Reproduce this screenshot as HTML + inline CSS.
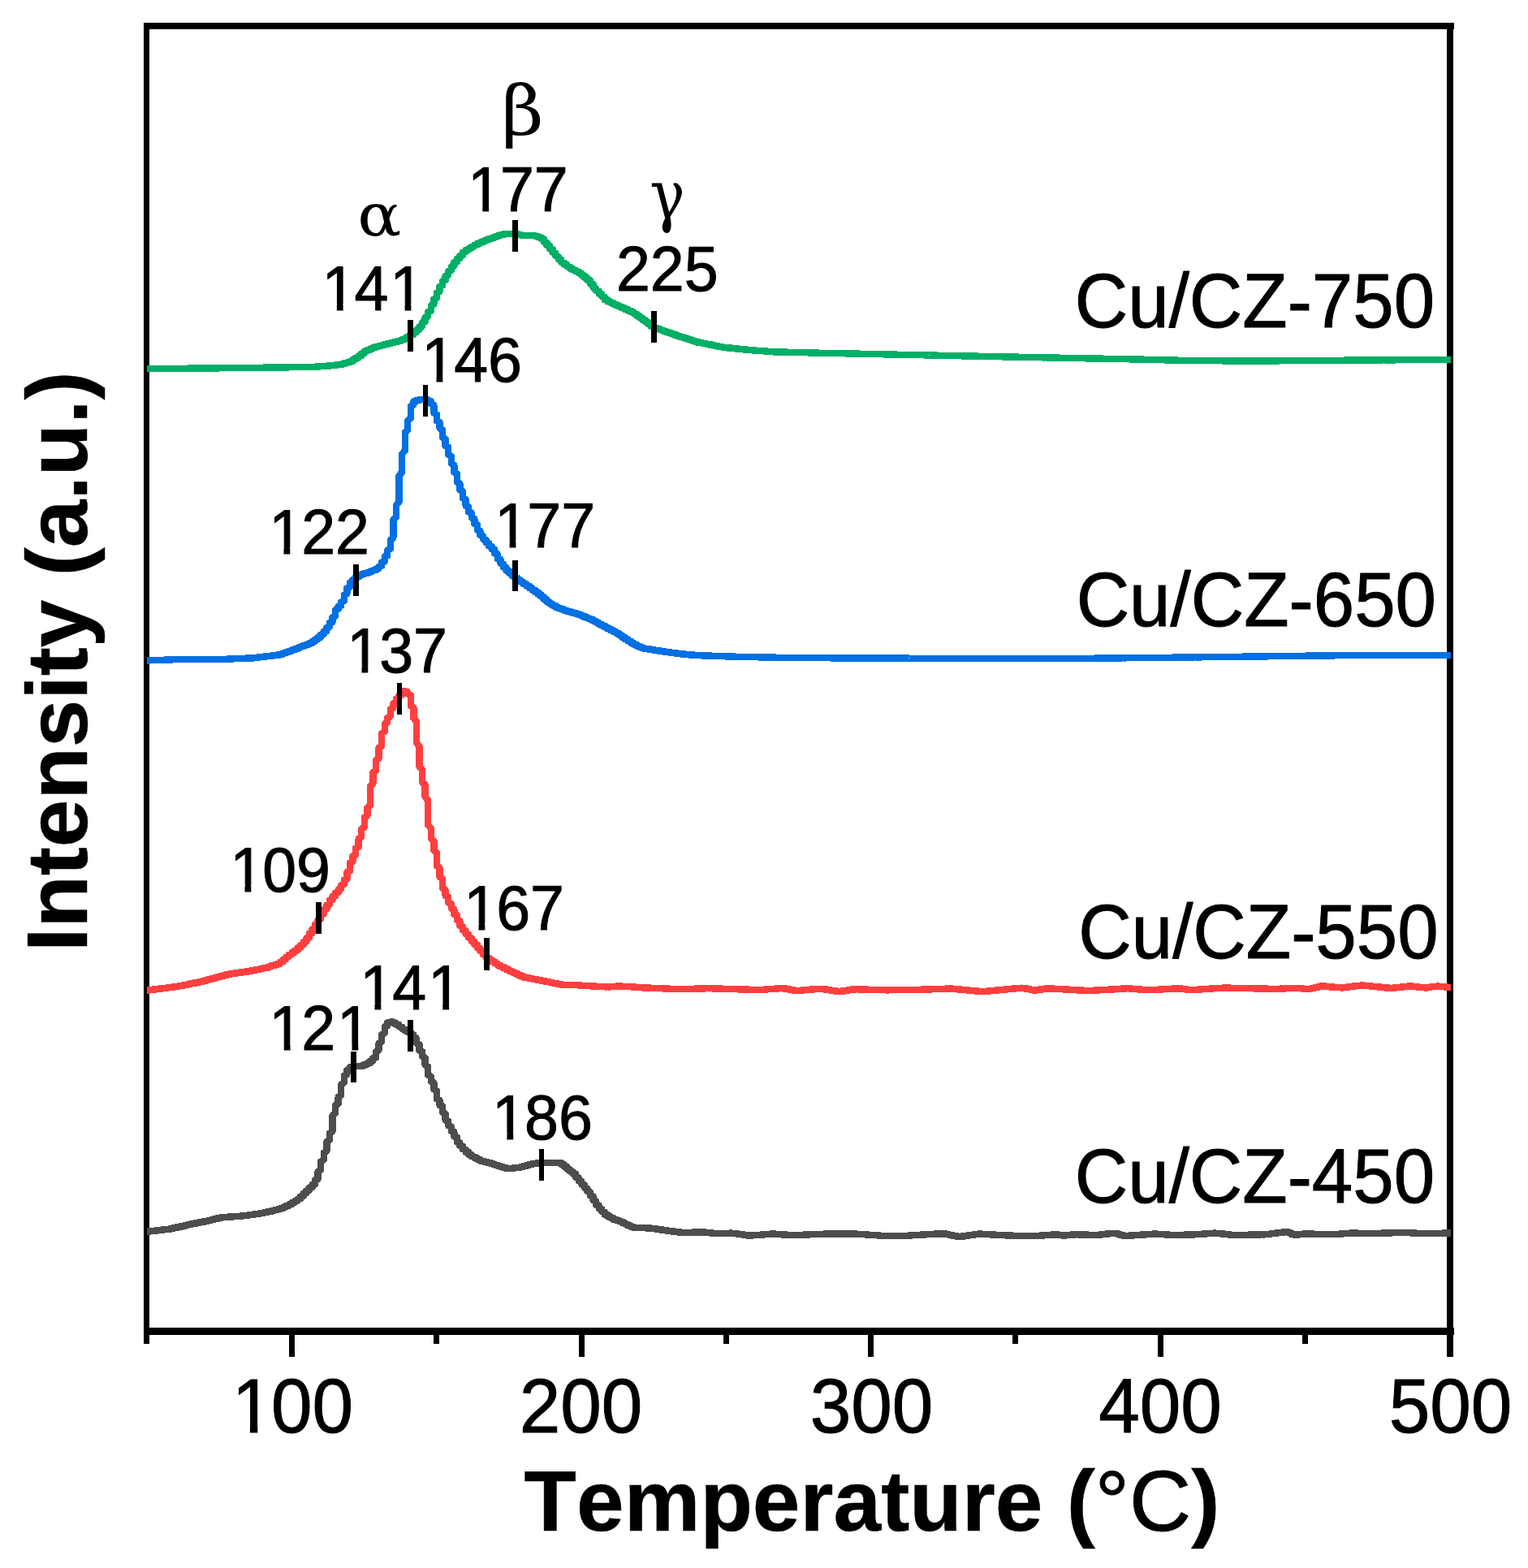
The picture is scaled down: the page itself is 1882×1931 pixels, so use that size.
<!DOCTYPE html>
<html lang="en"><head><meta charset="utf-8"><title>H2-TPR profiles of Cu/CZ catalysts</title>
<style>html,body{margin:0;padding:0;background:#fff}body{width:1882px;height:1931px;overflow:hidden}svg{display:block}text{fill:#000;stroke:#000;stroke-linejoin:round;font-kerning:none;font-variant-ligatures:none;white-space:pre}</style>
</head><body>
<svg width="1882" height="1931" viewBox="0 0 1882 1931" role="img" aria-label="H2-TPR profiles">
<rect width="1882" height="1931" fill="#fff"/>
<defs>
<clipPath id="c1" clipPathUnits="userSpaceOnUse"><rect x="-30" y="-130" width="530" height="120.4"/><rect x="-30.00" y="-10" width="37.50" height="70"/><rect x="26.90" y="-10" width="10.30" height="70"/><rect x="55.80" y="-10" width="444.20" height="70"/></clipPath>
<clipPath id="c13" clipPathUnits="userSpaceOnUse"><rect x="-30" y="-130" width="530" height="120.4"/><rect x="-30.00" y="-10" width="37.50" height="70"/><rect x="26.90" y="-10" width="10.30" height="70"/><rect x="55.80" y="-10" width="62.95" height="70"/><rect x="138.15" y="-10" width="10.30" height="70"/><rect x="167.05" y="-10" width="332.95" height="70"/></clipPath>
</defs>
<g fill="#000" shape-rendering="crispEdges">
<rect x="177" y="28" width="1614" height="8"/>
<rect x="177" y="1635" width="1614" height="9"/>
<rect x="177" y="28" width="7" height="1627"/>
<rect x="1782" y="28" width="8" height="1643"/>
<rect x="534.1" y="1640" width="7" height="15"/>
<rect x="891.1" y="1640" width="7" height="15"/>
<rect x="1247.1" y="1640" width="7" height="15"/>
<rect x="1604.1" y="1640" width="7" height="15"/>
<rect x="356.1" y="1640" width="7" height="31"/>
<rect x="713.1" y="1640" width="7" height="31"/>
<rect x="1068.9" y="1640" width="7" height="31"/>
<rect x="1426.1" y="1640" width="7" height="31"/>
</g>
<g fill="none" stroke-width="8.4" stroke-linejoin="round" stroke-linecap="butt" shape-rendering="crispEdges">
<polyline stroke="#4D4D4D" points="181.0,1516.5 184.7,1516.5 184.7,1516.1 188.2,1516.1 188.2,1515.7 191.8,1515.7 191.8,1515.3 195.4,1515.3 195.4,1514.9 198.9,1514.9 198.9,1514.5 202.5,1514.5 202.5,1514.2 206.1,1514.1 206.1,1513.8 209.6,1513.7 209.6,1513.2 213.2,1513.1 213.2,1512.4 216.8,1512.2 216.8,1511.5 220.3,1511.4 220.3,1510.7 223.9,1510.6 223.9,1509.9 227.5,1509.7 227.5,1509.0 231.1,1508.9 231.1,1508.2 234.6,1508.1 234.6,1507.4 238.2,1507.3 238.2,1506.7 241.8,1506.6 241.8,1506.0 245.3,1505.9 245.3,1505.3 248.9,1505.2 248.9,1504.6 252.5,1504.5 252.5,1503.9 256.0,1503.7 256.0,1503.1 259.6,1503.0 259.6,1502.3 263.2,1502.1 263.2,1501.4 266.7,1501.2 266.7,1500.5 270.3,1500.4 270.3,1499.6 273.9,1499.5 273.9,1499.1 277.4,1499.0 277.4,1498.8 281.0,1498.8 281.0,1498.6 284.6,1498.6 284.6,1498.4 288.1,1498.3 288.1,1498.1 291.7,1498.1 291.7,1497.9 295.3,1497.8 295.3,1497.6 298.8,1497.6 298.8,1497.2 302.4,1497.1 302.4,1496.7 306.0,1496.7 306.0,1496.3 309.5,1496.2 309.5,1495.8 313.1,1495.7 313.1,1495.3 316.7,1495.2 316.7,1494.8 320.3,1494.7 320.3,1494.3 323.8,1494.2 323.8,1493.5 327.4,1493.3 327.4,1492.7 331.0,1492.5 331.0,1491.8 334.5,1491.7 334.5,1491.0 338.1,1490.9 338.1,1490.2 341.7,1490.0 341.7,1489.3 345.2,1489.2 345.2,1488.2 348.8,1488.0 348.8,1486.7 352.4,1486.4 352.4,1485.1 355.9,1484.9 355.9,1483.4 359.5,1483.1 359.5,1481.2 363.1,1480.8 363.1,1479.0 366.6,1478.6 366.6,1476.7 370.2,1476.3 370.2,1473.6 373.8,1473.0 373.8,1470.0 377.3,1469.4 377.3,1466.4 380.9,1465.8 380.9,1462.8 384.5,1462.2 384.5,1459.2 388.0,1458.4 388.0,1453.3 391.6,1451.9 391.6,1442.9 395.2,1440.9 395.2,1430.4 398.7,1428.5 398.7,1420.0 402.3,1417.9 402.3,1406.2 405.9,1404.2 405.9,1395.8 409.5,1393.0 409.5,1373.7 413.0,1370.8 413.0,1361.2 416.6,1359.5 416.6,1351.1 420.2,1348.9 420.2,1335.6 423.7,1333.4 423.7,1324.7 427.3,1323.3 427.3,1318.2 430.9,1317.4 430.9,1314.4 434.4,1314.0 434.4,1312.8 438.0,1312.6 438.0,1312.9 441.6,1312.9 441.6,1313.2 445.1,1313.1 445.1,1312.5 448.7,1312.3 448.7,1311.0 452.3,1310.8 452.3,1309.5 455.8,1309.2 455.8,1307.0 459.4,1306.5 459.4,1303.2 463.0,1302.1 463.0,1295.2 466.5,1293.6 466.5,1284.8 470.1,1283.0 470.1,1274.1 473.7,1272.4 473.7,1264.3 477.2,1263.1 477.2,1259.5 480.8,1259.1 480.8,1258.5 484.4,1258.6 484.4,1260.1 487.9,1260.4 487.9,1261.8 491.5,1262.2 491.5,1264.3 495.1,1264.7 495.1,1267.1 498.7,1267.6 498.7,1269.5 502.2,1269.8 502.2,1271.1 505.8,1271.4 505.8,1273.8 509.4,1274.4 509.4,1277.9 512.9,1278.8 512.9,1284.7 516.5,1286.1 516.5,1293.7 520.1,1295.0 520.1,1300.9 523.6,1302.4 523.6,1311.6 527.2,1313.6 527.2,1324.0 530.8,1325.6 530.8,1331.8 534.3,1333.3 534.3,1341.6 537.9,1343.4 537.9,1353.5 541.5,1355.1 541.5,1361.0 545.0,1362.4 545.0,1369.9 548.6,1371.5 548.6,1379.6 552.2,1380.9 552.2,1386.3 555.7,1387.4 555.7,1392.8 559.3,1393.9 559.3,1399.5 562.9,1400.6 562.9,1406.2 566.4,1407.2 566.4,1411.1 570.0,1411.8 570.0,1415.2 573.6,1415.8 573.6,1418.5 577.1,1419.0 577.1,1421.7 580.7,1422.2 580.7,1424.2 584.3,1424.5 584.3,1426.0 587.9,1426.3 587.9,1427.8 591.4,1428.1 591.4,1429.6 595.0,1429.8 595.0,1430.5 598.6,1430.7 598.6,1431.4 602.1,1431.6 602.1,1432.3 605.7,1432.5 605.7,1433.4 609.3,1433.6 609.3,1434.6 612.8,1434.8 612.8,1435.8 616.4,1436.0 616.4,1437.0 620.0,1437.2 620.0,1438.1 623.5,1438.3 623.5,1439.2 627.1,1439.3 627.1,1438.9 630.7,1438.9 630.7,1438.6 634.2,1438.5 634.2,1438.2 637.8,1438.1 637.8,1437.8 641.4,1437.7 641.4,1436.9 644.9,1436.7 644.9,1435.9 648.5,1435.7 648.5,1434.9 652.1,1434.7 652.1,1433.9 655.6,1433.7 655.6,1433.0 659.2,1432.9 659.2,1432.6 662.8,1432.6 662.8,1432.4 666.3,1432.3 666.3,1432.1 669.9,1432.0 669.9,1431.8 673.5,1431.8 677.1,1431.9 680.6,1431.9 684.2,1432.0 687.8,1432.0 691.3,1432.2 691.3,1433.9 694.9,1434.3 694.9,1436.6 698.5,1437.1 698.5,1439.5 702.0,1440.0 702.0,1442.4 705.6,1442.9 705.6,1445.5 709.2,1446.1 709.2,1449.7 712.7,1450.4 712.7,1454.0 716.3,1454.8 716.3,1458.4 719.9,1459.2 719.9,1462.8 723.4,1463.6 723.4,1467.3 727.0,1468.1 727.0,1472.4 730.6,1473.3 730.6,1478.4 734.1,1479.3 734.1,1483.8 737.7,1484.6 737.7,1488.5 741.3,1489.2 741.3,1492.2 744.8,1492.8 744.8,1495.7 748.4,1496.1 748.4,1497.9 752.0,1498.2 752.0,1500.0 755.5,1500.3 755.5,1501.8 759.1,1502.0 759.1,1503.0 762.7,1503.2 762.7,1504.2 766.3,1504.5 766.3,1505.8 769.8,1506.0 769.8,1507.5 773.4,1507.8 773.4,1509.3 777.0,1509.6 777.0,1511.0 780.5,1511.2 780.5,1511.8 784.1,1511.9 787.7,1512.0 791.2,1512.1 794.8,1512.3 798.4,1512.4 801.9,1512.5 801.9,1512.8 805.5,1512.9 805.5,1513.3 809.1,1513.4 809.1,1513.9 812.6,1514.0 812.6,1514.4 816.2,1514.5 816.2,1515.0 819.8,1515.1 819.8,1515.5 823.3,1515.6 823.3,1516.0 826.9,1516.1 826.9,1516.4 830.5,1516.5 830.5,1516.9 834.0,1516.9 834.0,1517.3 837.6,1517.4 837.6,1517.7 841.2,1517.8 844.7,1517.8 848.3,1517.8 851.9,1517.7 855.5,1517.6 859.0,1517.6 862.6,1517.5 866.2,1517.4 866.2,1517.6 869.7,1517.7 869.7,1518.0 873.3,1518.0 873.3,1518.3 876.9,1518.4 876.9,1518.7 880.4,1518.7 880.4,1519.0 884.0,1519.0 887.6,1519.0 891.1,1518.9 894.7,1518.8 898.3,1518.7 901.8,1518.6 901.8,1518.8 905.4,1518.8 905.4,1519.3 909.0,1519.4 909.0,1519.8 912.5,1519.9 912.5,1520.3 916.1,1520.4 916.1,1520.9 919.7,1521.0 919.7,1521.4 923.2,1521.5 926.8,1521.5 926.8,1521.3 930.4,1521.2 930.4,1521.0 933.9,1520.9 933.9,1520.7 937.5,1520.7 937.5,1520.4 941.1,1520.4 941.1,1520.1 944.7,1520.1 944.7,1519.9 948.2,1519.8 948.2,1519.6 951.8,1519.6 955.4,1519.7 955.4,1519.9 958.9,1519.9 958.9,1520.1 962.5,1520.2 962.5,1520.4 966.1,1520.4 966.1,1520.6 969.6,1520.7 969.6,1520.9 973.2,1520.9 973.2,1521.1 976.8,1521.1 980.3,1521.1 983.9,1520.9 987.5,1520.8 991.0,1520.6 994.6,1520.5 998.2,1520.3 1001.7,1520.2 1005.3,1520.0 1008.9,1519.9 1012.4,1519.8 1016.0,1519.6 1019.6,1519.5 1023.1,1519.5 1026.7,1519.5 1030.3,1519.5 1033.9,1519.5 1037.4,1519.5 1041.0,1519.5 1044.6,1519.5 1048.1,1519.5 1051.7,1519.5 1055.3,1519.5 1055.3,1519.7 1058.8,1519.7 1058.8,1520.0 1062.4,1520.0 1062.4,1520.2 1066.0,1520.2 1066.0,1520.4 1069.5,1520.5 1069.5,1520.7 1073.1,1520.7 1073.1,1520.9 1076.7,1521.0 1076.7,1521.2 1080.2,1521.2 1080.2,1521.4 1083.8,1521.5 1083.8,1521.7 1087.4,1521.7 1090.9,1521.7 1094.5,1521.7 1098.1,1521.7 1101.6,1521.7 1105.2,1521.7 1108.8,1521.7 1112.3,1521.7 1115.9,1521.7 1119.5,1521.7 1119.5,1521.5 1123.1,1521.5 1123.1,1521.3 1126.6,1521.2 1126.6,1521.1 1130.2,1521.0 1130.2,1520.8 1133.8,1520.8 1133.8,1520.6 1137.3,1520.6 1137.3,1520.4 1140.9,1520.4 1140.9,1520.2 1144.5,1520.2 1144.5,1520.0 1148.0,1519.9 1148.0,1519.8 1151.6,1519.7 1151.6,1519.5 1155.2,1519.5 1158.7,1519.5 1162.3,1519.5 1165.9,1519.6 1165.9,1520.2 1169.4,1520.3 1169.4,1520.9 1173.0,1521.0 1173.0,1521.7 1176.6,1521.8 1176.6,1522.4 1180.1,1522.5 1180.1,1523.0 1183.7,1523.0 1183.7,1522.6 1187.3,1522.5 1187.3,1522.0 1190.8,1522.0 1190.8,1521.5 1194.4,1521.5 1194.4,1521.0 1198.0,1521.0 1198.0,1520.5 1201.5,1520.5 1201.5,1520.0 1205.1,1519.9 1205.1,1519.5 1208.7,1519.5 1208.7,1519.7 1212.3,1519.7 1212.3,1519.9 1215.8,1519.9 1215.8,1520.1 1219.4,1520.1 1219.4,1520.3 1223.0,1520.3 1223.0,1520.5 1226.5,1520.6 1226.5,1520.7 1230.1,1520.8 1230.1,1520.9 1233.7,1521.0 1233.7,1521.1 1237.2,1521.2 1237.2,1521.3 1240.8,1521.4 1240.8,1521.5 1244.4,1521.6 1247.9,1521.7 1251.5,1521.7 1255.1,1521.7 1258.6,1521.7 1262.2,1521.7 1265.8,1521.7 1269.3,1521.7 1272.9,1521.7 1276.5,1521.7 1280.0,1521.7 1283.6,1521.6 1283.6,1521.4 1287.2,1521.3 1287.2,1521.1 1290.7,1521.1 1290.7,1520.8 1294.3,1520.8 1294.3,1520.6 1297.9,1520.5 1297.9,1520.3 1301.5,1520.3 1301.5,1520.6 1305.0,1520.7 1305.0,1521.1 1308.6,1521.2 1308.6,1521.6 1312.2,1521.6 1312.2,1521.3 1315.7,1521.2 1315.7,1520.8 1319.3,1520.7 1319.3,1520.3 1322.9,1520.3 1326.4,1520.3 1330.0,1520.4 1333.6,1520.5 1337.1,1520.6 1340.7,1520.7 1344.3,1520.8 1347.8,1520.9 1351.4,1520.9 1355.0,1520.7 1355.0,1520.4 1358.5,1520.3 1358.5,1520.0 1362.1,1519.9 1362.1,1519.6 1365.7,1519.5 1365.7,1519.1 1369.2,1519.1 1369.2,1518.7 1372.8,1518.7 1372.8,1519.0 1376.4,1519.2 1376.4,1520.0 1379.9,1520.2 1379.9,1521.0 1383.5,1521.2 1383.5,1522.0 1387.1,1522.1 1387.1,1521.9 1390.7,1521.8 1390.7,1521.6 1394.2,1521.6 1394.2,1521.4 1397.8,1521.3 1397.8,1521.1 1401.4,1521.1 1401.4,1520.9 1404.9,1520.8 1404.9,1520.6 1408.5,1520.6 1408.5,1520.3 1412.1,1520.3 1412.1,1520.1 1415.6,1520.1 1415.6,1519.8 1419.2,1519.8 1419.2,1519.6 1422.8,1519.6 1426.3,1519.7 1426.3,1519.9 1429.9,1519.9 1429.9,1520.1 1433.5,1520.1 1433.5,1520.3 1437.0,1520.4 1437.0,1520.6 1440.6,1520.6 1440.6,1520.8 1444.2,1520.8 1447.7,1521.0 1451.3,1520.9 1454.9,1520.8 1458.4,1520.7 1462.0,1520.6 1465.6,1520.5 1469.1,1520.4 1472.7,1520.3 1476.3,1520.2 1476.3,1520.0 1479.9,1519.9 1479.9,1519.7 1483.4,1519.6 1483.4,1519.4 1487.0,1519.4 1487.0,1519.1 1490.6,1519.1 1490.6,1518.8 1494.1,1518.8 1494.1,1518.6 1497.7,1518.6 1497.7,1518.8 1501.3,1518.9 1501.3,1519.2 1504.8,1519.3 1504.8,1519.6 1508.4,1519.6 1508.4,1520.0 1512.0,1520.0 1512.0,1520.3 1515.5,1520.4 1515.5,1520.7 1519.1,1520.8 1519.1,1521.0 1522.7,1521.0 1526.2,1520.9 1529.8,1520.8 1533.4,1520.8 1536.9,1520.7 1540.5,1520.6 1544.1,1520.5 1547.6,1520.5 1551.2,1520.4 1554.8,1520.3 1558.3,1520.3 1561.9,1520.1 1561.9,1519.7 1565.5,1519.7 1565.5,1519.3 1569.1,1519.2 1569.1,1518.8 1572.6,1518.7 1572.6,1518.3 1576.2,1518.2 1576.2,1517.8 1579.8,1517.8 1579.8,1517.4 1583.3,1517.3 1583.3,1516.9 1586.9,1517.0 1586.9,1518.2 1590.5,1518.5 1590.5,1520.0 1594.0,1520.2 1594.0,1520.7 1597.6,1520.8 1597.6,1520.4 1601.2,1520.3 1601.2,1520.0 1604.7,1519.9 1604.7,1519.6 1608.3,1519.5 1611.9,1519.6 1615.4,1519.6 1619.0,1519.7 1622.6,1519.8 1626.1,1519.8 1629.7,1519.9 1633.3,1520.0 1636.8,1520.0 1640.4,1520.1 1644.0,1520.1 1647.5,1520.1 1647.5,1519.8 1651.1,1519.7 1651.1,1519.4 1654.7,1519.4 1654.7,1519.1 1658.3,1519.0 1658.3,1518.7 1661.8,1518.7 1665.4,1518.5 1669.0,1518.6 1672.5,1518.7 1676.1,1518.8 1679.7,1518.9 1683.2,1519.0 1686.8,1519.0 1690.4,1519.1 1693.9,1518.9 1697.5,1518.8 1701.1,1518.7 1704.6,1518.6 1708.2,1518.5 1711.8,1518.4 1715.3,1518.3 1718.9,1518.2 1722.5,1518.1 1726.0,1518.0 1729.6,1517.9 1733.2,1517.9 1733.2,1518.1 1736.7,1518.1 1736.7,1518.3 1740.3,1518.3 1740.3,1518.5 1743.9,1518.6 1743.9,1518.7 1747.5,1518.8 1747.5,1519.0 1751.0,1519.0 1754.6,1519.1 1758.2,1519.0 1761.7,1518.9 1765.3,1518.9 1768.9,1518.8 1772.4,1518.8 1776.0,1518.7 1779.6,1518.6 1783.1,1518.6 1787.0,1518.6"/>
<polyline stroke="#FF3F3F" points="181.0,1219.4 184.7,1219.4 184.7,1219.0 188.2,1219.0 188.2,1218.6 191.8,1218.5 191.8,1218.1 195.4,1218.1 195.4,1217.7 198.9,1217.6 198.9,1217.2 202.5,1217.1 202.5,1216.8 206.1,1216.7 206.1,1216.3 209.6,1216.2 209.6,1215.9 213.2,1215.8 213.2,1215.4 216.8,1215.3 216.8,1214.9 220.3,1214.8 220.3,1214.2 223.9,1214.1 223.9,1213.5 227.5,1213.4 227.5,1212.8 231.1,1212.6 231.1,1212.0 234.6,1211.9 234.6,1211.3 238.2,1211.2 238.2,1210.6 241.8,1210.5 241.8,1209.9 245.3,1209.8 245.3,1209.2 248.9,1209.1 248.9,1208.4 252.5,1208.2 252.5,1207.4 256.0,1207.3 256.0,1206.4 259.6,1206.3 259.6,1205.5 263.2,1205.3 263.2,1204.5 266.7,1204.3 266.7,1203.5 270.3,1203.3 270.3,1202.5 273.9,1202.3 273.9,1201.5 277.4,1201.4 277.4,1200.5 281.0,1200.4 281.0,1199.7 284.6,1199.6 284.6,1199.1 288.1,1199.0 288.1,1198.6 291.7,1198.5 291.7,1198.1 295.3,1198.0 295.3,1197.5 298.8,1197.5 298.8,1197.0 302.4,1196.9 302.4,1196.5 306.0,1196.4 306.0,1195.9 309.5,1195.8 309.5,1195.2 313.1,1195.1 313.1,1194.5 316.7,1194.4 316.7,1193.8 320.3,1193.7 320.3,1193.1 323.8,1193.0 323.8,1192.4 327.4,1192.2 327.4,1191.6 331.0,1191.5 331.0,1190.5 334.5,1190.3 334.5,1189.3 338.1,1189.1 338.1,1188.1 341.7,1187.9 341.7,1186.9 345.2,1186.6 345.2,1184.7 348.8,1184.3 348.8,1181.7 352.4,1181.2 352.4,1178.6 355.9,1178.1 355.9,1175.8 359.5,1175.3 359.5,1173.2 363.1,1172.7 363.1,1170.6 366.6,1170.1 366.6,1167.4 370.2,1166.9 370.2,1163.9 373.8,1163.3 373.8,1160.3 377.3,1159.6 377.3,1155.6 380.9,1154.7 380.9,1150.0 384.5,1149.1 384.5,1144.3 388.0,1143.3 388.0,1138.5 391.6,1137.5 391.6,1132.7 395.2,1131.7 395.2,1126.6 398.7,1125.6 398.7,1120.5 402.3,1119.5 402.3,1114.7 405.9,1113.7 405.9,1108.9 409.5,1108.0 409.5,1104.1 413.0,1103.3 413.0,1099.8 416.6,1099.1 416.6,1095.5 420.2,1094.7 420.2,1090.0 423.7,1089.0 423.7,1083.8 427.3,1082.5 427.3,1074.3 430.9,1072.5 430.9,1062.8 434.4,1061.2 434.4,1054.2 438.0,1052.7 438.0,1044.7 441.6,1042.9 441.6,1033.0 445.1,1031.0 445.1,1021.0 448.7,1018.9 448.7,1007.0 452.3,1004.9 452.3,995.0 455.8,991.7 455.8,968.6 459.4,964.9 459.4,951.2 463.0,948.6 463.0,936.5 466.5,934.0 466.5,921.1 470.1,918.3 470.1,903.4 473.7,901.0 473.7,891.4 477.2,889.9 477.2,883.9 480.8,882.4 480.8,873.3 484.4,871.9 484.4,866.4 487.9,865.4 487.9,861.0 491.5,860.1 491.5,856.2 495.1,855.4 495.1,851.5 498.7,851.2 498.7,852.1 502.2,852.4 502.2,854.6 505.8,856.1 505.8,869.2 509.4,871.8 509.4,884.4 512.9,888.3 512.9,914.4 516.5,919.4 516.5,944.0 520.1,948.0 520.1,963.4 523.6,966.4 523.6,981.3 527.2,985.8 527.2,1015.9 530.8,1020.2 530.8,1032.9 534.3,1035.4 534.3,1047.3 537.9,1050.1 537.9,1066.2 541.5,1068.9 541.5,1080.1 545.0,1082.4 545.0,1093.8 548.6,1095.7 548.6,1103.1 552.2,1104.6 552.2,1111.5 555.7,1112.8 555.7,1118.7 559.3,1119.9 559.3,1125.8 562.9,1127.0 562.9,1133.0 566.4,1134.2 566.4,1140.2 570.0,1141.3 570.0,1145.4 573.6,1146.2 573.6,1150.0 577.1,1150.8 577.1,1154.6 580.7,1155.3 580.7,1158.8 584.3,1159.5 584.3,1162.9 587.9,1163.6 587.9,1167.0 591.4,1167.7 591.4,1171.2 595.0,1171.9 595.0,1175.5 598.6,1176.2 598.6,1179.2 602.1,1179.7 602.1,1181.7 605.7,1182.1 605.7,1184.0 609.3,1184.4 609.3,1186.4 612.8,1186.8 612.8,1188.6 616.4,1188.9 616.4,1190.4 620.0,1190.7 620.0,1192.2 623.5,1192.5 623.5,1194.0 627.1,1194.3 627.1,1195.8 630.7,1196.1 630.7,1197.4 634.2,1197.7 634.2,1199.0 637.8,1199.3 637.8,1200.7 641.4,1200.9 641.4,1202.3 644.9,1202.5 644.9,1203.6 648.5,1203.7 648.5,1204.3 652.1,1204.4 652.1,1205.0 655.6,1205.1 655.6,1205.7 659.2,1205.8 659.2,1206.4 662.8,1206.5 662.8,1207.1 666.3,1207.2 666.3,1207.8 669.9,1207.9 669.9,1208.5 673.5,1208.6 673.5,1209.2 677.1,1209.4 677.1,1210.0 680.6,1210.1 680.6,1210.7 684.2,1210.8 684.2,1211.4 687.8,1211.5 687.8,1212.1 691.3,1212.2 691.3,1212.8 694.9,1212.9 698.5,1213.0 702.0,1213.1 705.6,1213.1 709.2,1213.2 712.7,1213.3 712.7,1213.5 716.3,1213.5 716.3,1213.7 719.9,1213.7 719.9,1213.9 723.4,1213.9 723.4,1214.1 727.0,1214.1 727.0,1214.3 730.6,1214.3 730.6,1214.5 734.1,1214.5 734.1,1214.7 737.7,1214.7 737.7,1214.9 741.3,1214.9 741.3,1215.1 744.8,1215.1 744.8,1215.3 748.4,1215.3 752.0,1215.4 752.0,1215.2 755.5,1215.1 755.5,1214.9 759.1,1214.8 759.1,1214.5 762.7,1214.5 766.3,1214.6 766.3,1214.7 769.8,1214.8 769.8,1215.0 773.4,1215.0 773.4,1215.2 777.0,1215.2 777.0,1215.4 780.5,1215.4 780.5,1215.6 784.1,1215.7 784.1,1215.8 787.7,1215.9 787.7,1216.1 791.2,1216.1 791.2,1216.3 794.8,1216.3 794.8,1216.5 798.4,1216.5 801.9,1216.7 805.5,1216.8 809.1,1217.0 812.6,1217.2 816.2,1217.3 819.8,1217.5 823.3,1217.6 826.9,1217.8 830.5,1218.0 834.0,1218.1 837.6,1218.2 841.2,1218.1 844.7,1218.0 848.3,1217.9 851.9,1217.8 855.5,1217.7 859.0,1217.6 862.6,1217.5 866.2,1217.4 869.7,1217.3 873.3,1217.2 876.9,1217.3 880.4,1217.4 884.0,1217.5 887.6,1217.6 891.1,1217.8 894.7,1217.9 898.3,1218.0 901.8,1218.1 905.4,1218.2 909.0,1218.3 912.5,1218.4 916.1,1218.5 919.7,1218.6 923.2,1218.7 926.8,1218.8 930.4,1218.9 933.9,1219.0 937.5,1219.0 937.5,1218.8 941.1,1218.7 941.1,1218.5 944.7,1218.5 944.7,1218.3 948.2,1218.2 948.2,1218.0 951.8,1218.0 951.8,1217.8 955.4,1217.7 955.4,1217.5 958.9,1217.5 958.9,1217.3 962.5,1217.2 962.5,1217.0 966.1,1217.1 966.1,1217.6 969.6,1217.7 969.6,1218.3 973.2,1218.4 973.2,1218.9 976.8,1219.0 976.8,1219.6 980.3,1219.7 980.3,1220.0 983.9,1220.0 983.9,1219.7 987.5,1219.7 987.5,1219.4 991.0,1219.4 991.0,1219.2 994.6,1219.1 994.6,1218.9 998.2,1218.8 998.2,1218.6 1001.7,1218.5 1001.7,1218.3 1005.3,1218.2 1005.3,1218.0 1008.9,1217.9 1008.9,1217.7 1012.4,1217.7 1012.4,1218.1 1016.0,1218.1 1016.0,1218.6 1019.6,1218.7 1019.6,1219.2 1023.1,1219.2 1023.1,1219.7 1026.7,1219.8 1026.7,1220.3 1030.3,1220.3 1030.3,1220.8 1033.9,1220.9 1037.4,1220.9 1037.4,1220.4 1041.0,1220.3 1041.0,1219.8 1044.6,1219.7 1044.6,1219.1 1048.1,1219.0 1048.1,1218.5 1051.7,1218.4 1051.7,1218.3 1055.3,1218.3 1058.8,1218.4 1062.4,1218.5 1066.0,1218.6 1069.5,1218.7 1073.1,1218.8 1076.7,1218.9 1080.2,1219.0 1083.8,1219.1 1087.4,1219.2 1090.9,1219.3 1094.5,1219.3 1098.1,1219.2 1101.6,1219.2 1105.2,1219.1 1108.8,1219.1 1112.3,1219.0 1115.9,1219.0 1119.5,1218.9 1123.1,1218.9 1126.6,1218.8 1130.2,1218.8 1133.8,1218.7 1137.3,1218.6 1140.9,1218.5 1144.5,1218.4 1148.0,1218.3 1151.6,1218.1 1155.2,1218.0 1158.7,1217.9 1162.3,1217.8 1165.9,1217.6 1169.4,1217.5 1173.0,1217.5 1173.0,1217.7 1176.6,1217.8 1176.6,1218.1 1180.1,1218.1 1180.1,1218.4 1183.7,1218.5 1183.7,1218.8 1187.3,1218.8 1187.3,1219.1 1190.8,1219.2 1190.8,1219.5 1194.4,1219.5 1194.4,1219.8 1198.0,1219.9 1198.0,1220.2 1201.5,1220.2 1201.5,1220.5 1205.1,1220.6 1205.1,1220.8 1208.7,1220.9 1208.7,1221.2 1212.3,1221.2 1212.3,1220.9 1215.8,1220.8 1215.8,1220.5 1219.4,1220.5 1219.4,1220.2 1223.0,1220.1 1223.0,1219.8 1226.5,1219.8 1226.5,1219.5 1230.1,1219.4 1230.1,1219.2 1233.7,1219.1 1233.7,1218.8 1237.2,1218.8 1237.2,1218.5 1240.8,1218.4 1240.8,1218.1 1244.4,1218.1 1244.4,1217.8 1247.9,1217.7 1247.9,1217.4 1251.5,1217.4 1251.5,1217.1 1255.1,1217.0 1255.1,1216.8 1258.6,1216.7 1262.2,1216.8 1262.2,1217.5 1265.8,1217.6 1265.8,1218.2 1269.3,1218.4 1269.3,1219.0 1272.9,1219.1 1272.9,1219.6 1276.5,1219.6 1276.5,1219.1 1280.0,1219.0 1280.0,1218.6 1283.6,1218.5 1283.6,1218.1 1287.2,1218.0 1287.2,1217.5 1290.7,1217.5 1290.7,1217.3 1294.3,1217.3 1294.3,1217.5 1297.9,1217.5 1297.9,1217.7 1301.5,1217.7 1301.5,1217.9 1305.0,1217.9 1305.0,1218.1 1308.6,1218.1 1308.6,1218.3 1312.2,1218.3 1312.2,1218.5 1315.7,1218.5 1315.7,1218.7 1319.3,1218.7 1319.3,1218.9 1322.9,1218.9 1322.9,1219.1 1326.4,1219.1 1326.4,1219.3 1330.0,1219.3 1330.0,1219.5 1333.6,1219.5 1333.6,1219.7 1337.1,1219.7 1337.1,1219.9 1340.7,1219.9 1344.3,1220.1 1344.3,1219.9 1347.8,1219.8 1347.8,1219.6 1351.4,1219.6 1351.4,1219.4 1355.0,1219.4 1355.0,1219.2 1358.5,1219.2 1358.5,1219.0 1362.1,1218.9 1362.1,1218.8 1365.7,1218.7 1365.7,1218.5 1369.2,1218.5 1369.2,1218.3 1372.8,1218.3 1372.8,1218.1 1376.4,1218.1 1376.4,1217.9 1379.9,1217.8 1379.9,1217.7 1383.5,1217.6 1383.5,1217.4 1387.1,1217.4 1387.1,1217.2 1390.7,1217.2 1390.7,1217.5 1394.2,1217.5 1394.2,1217.8 1397.8,1217.8 1397.8,1218.1 1401.4,1218.1 1401.4,1218.4 1404.9,1218.4 1404.9,1218.7 1408.5,1218.7 1408.5,1218.9 1412.1,1219.0 1412.1,1219.2 1415.6,1219.3 1419.2,1219.1 1419.2,1219.0 1422.8,1218.9 1422.8,1218.8 1426.3,1218.7 1426.3,1218.6 1429.9,1218.5 1429.9,1218.4 1433.5,1218.3 1433.5,1218.2 1437.0,1218.1 1437.0,1218.0 1440.6,1217.9 1440.6,1217.8 1444.2,1217.7 1444.2,1217.6 1447.7,1217.5 1447.7,1217.4 1451.3,1217.4 1454.9,1217.3 1454.9,1217.7 1458.4,1217.8 1458.4,1218.3 1462.0,1218.4 1462.0,1218.8 1465.6,1218.9 1465.6,1219.2 1469.1,1219.3 1469.1,1219.0 1472.7,1219.0 1472.7,1218.8 1476.3,1218.7 1476.3,1218.5 1479.9,1218.5 1479.9,1218.3 1483.4,1218.2 1483.4,1218.0 1487.0,1217.9 1487.0,1217.7 1490.6,1217.7 1490.6,1217.5 1494.1,1217.4 1494.1,1217.2 1497.7,1217.2 1497.7,1216.9 1501.3,1216.9 1501.3,1216.7 1504.8,1216.7 1508.4,1216.5 1512.0,1216.6 1515.5,1216.7 1519.1,1216.8 1522.7,1216.9 1526.2,1216.9 1529.8,1217.0 1533.4,1217.1 1536.9,1217.2 1540.5,1217.2 1544.1,1217.3 1547.6,1217.4 1551.2,1217.5 1554.8,1217.6 1558.3,1217.6 1561.9,1217.7 1565.5,1217.8 1569.1,1217.9 1572.6,1217.9 1576.2,1217.9 1576.2,1217.7 1579.8,1217.6 1579.8,1217.4 1583.3,1217.4 1583.3,1217.2 1586.9,1217.1 1586.9,1216.9 1590.5,1216.9 1590.5,1216.7 1594.0,1216.7 1597.6,1216.7 1597.6,1217.0 1601.2,1217.0 1601.2,1217.3 1604.7,1217.4 1604.7,1217.7 1608.3,1217.7 1608.3,1218.0 1611.9,1218.0 1611.9,1217.7 1615.4,1217.7 1615.4,1217.0 1619.0,1216.9 1619.0,1216.2 1622.6,1216.1 1622.6,1215.4 1626.1,1215.3 1626.1,1214.6 1629.7,1214.5 1633.3,1214.7 1633.3,1215.0 1636.8,1215.0 1636.8,1215.3 1640.4,1215.3 1640.4,1215.6 1644.0,1215.7 1644.0,1215.9 1647.5,1216.0 1647.5,1216.2 1651.1,1216.3 1654.7,1216.4 1654.7,1216.0 1658.3,1215.9 1658.3,1215.6 1661.8,1215.5 1661.8,1215.1 1665.4,1215.0 1665.4,1214.7 1669.0,1214.6 1669.0,1214.2 1672.5,1214.2 1672.5,1213.8 1676.1,1213.7 1676.1,1213.5 1679.7,1213.5 1679.7,1213.8 1683.2,1213.8 1683.2,1214.1 1686.8,1214.2 1686.8,1214.5 1690.4,1214.5 1690.4,1214.8 1693.9,1214.9 1693.9,1215.2 1697.5,1215.3 1697.5,1215.6 1701.1,1215.6 1701.1,1215.9 1704.6,1216.0 1704.6,1216.3 1708.2,1216.3 1708.2,1216.6 1711.8,1216.7 1711.8,1217.0 1715.3,1217.0 1715.3,1216.6 1718.9,1216.6 1718.9,1216.2 1722.5,1216.2 1722.5,1215.8 1726.0,1215.8 1726.0,1215.4 1729.6,1215.4 1729.6,1215.1 1733.2,1215.0 1733.2,1214.7 1736.7,1214.6 1740.3,1214.6 1740.3,1214.9 1743.9,1215.0 1743.9,1215.3 1747.5,1215.4 1747.5,1215.7 1751.0,1215.8 1751.0,1216.1 1754.6,1216.2 1754.6,1216.4 1758.2,1216.4 1758.2,1215.9 1761.7,1215.8 1761.7,1215.3 1765.3,1215.2 1765.3,1214.7 1768.9,1214.7 1772.4,1214.6 1772.4,1214.9 1776.0,1214.9 1776.0,1215.2 1779.6,1215.3 1779.6,1215.5 1783.1,1215.6 1783.1,1215.9 1787.0,1215.9"/>
<polyline stroke="#0070E3" points="181.0,813.3 184.7,813.3 188.2,813.2 191.8,813.1 195.4,812.9 198.9,812.8 202.5,812.7 206.1,812.6 209.6,812.4 213.2,812.3 216.8,812.2 220.3,812.0 223.9,811.9 227.5,811.8 231.1,811.8 234.6,811.9 238.2,811.9 241.8,811.9 245.3,812.0 248.9,812.0 252.5,812.1 256.0,812.1 259.6,812.1 263.2,812.2 266.7,812.2 270.3,812.1 273.9,811.9 277.4,811.8 281.0,811.6 284.6,811.5 288.1,811.3 291.7,811.2 295.3,811.0 298.8,810.9 302.4,810.7 306.0,810.6 309.5,810.4 313.1,810.3 313.1,810.0 316.7,810.0 316.7,809.6 320.3,809.5 320.3,809.2 323.8,809.1 323.8,808.7 327.4,808.6 327.4,808.3 331.0,808.2 331.0,807.8 334.5,807.8 334.5,807.4 338.1,807.3 338.1,806.9 341.7,806.9 341.7,806.5 345.2,806.4 345.2,805.7 348.8,805.5 348.8,804.4 352.4,804.2 352.4,803.1 355.9,802.9 355.9,801.8 359.5,801.6 359.5,800.5 363.1,800.2 363.1,799.1 366.6,798.9 366.6,797.7 370.2,797.5 370.2,796.4 373.8,796.1 373.8,795.0 377.3,794.8 377.3,793.6 380.9,793.4 380.9,792.2 384.5,791.9 384.5,790.1 388.0,789.7 388.0,787.6 391.6,787.2 391.6,785.1 395.2,784.6 395.2,781.6 398.7,781.0 398.7,777.6 402.3,776.9 402.3,773.0 405.9,772.1 405.9,767.1 409.5,766.0 409.5,760.1 413.0,758.7 413.0,751.2 416.6,750.1 416.6,746.7 420.2,745.9 420.2,741.4 423.7,740.2 423.7,732.6 427.3,731.1 427.3,724.3 430.9,723.1 430.9,717.7 434.4,716.8 434.4,713.7 438.0,713.1 438.0,710.9 441.6,710.5 441.6,708.7 445.1,708.4 445.1,707.4 448.7,707.2 448.7,706.1 452.3,705.9 452.3,704.9 455.8,704.7 455.8,703.6 459.4,703.4 459.4,702.4 463.0,702.1 463.0,700.6 466.5,700.2 466.5,697.7 470.1,697.0 470.1,692.4 473.7,691.4 473.7,685.3 477.2,684.1 477.2,677.5 480.8,675.8 480.8,665.1 484.4,661.9 484.4,640.2 487.9,636.6 487.9,622.3 491.5,617.8 491.5,586.5 495.1,581.2 495.1,559.2 498.7,554.9 498.7,533.1 502.2,529.8 502.2,517.8 505.8,515.1 505.8,500.3 509.4,498.4 509.4,494.5 512.9,494.0 512.9,493.0 516.5,492.8 516.5,492.3 520.1,492.2 520.1,492.0 523.6,492.1 523.6,492.3 527.2,492.4 527.2,493.8 530.8,494.2 530.8,497.5 534.3,498.8 534.3,508.6 537.9,510.4 537.9,518.5 541.5,520.1 541.5,527.5 545.0,529.2 545.0,538.7 548.6,540.5 548.6,549.1 552.2,550.8 552.2,559.7 555.7,561.5 555.7,570.9 559.3,572.7 559.3,581.7 562.9,583.6 562.9,593.7 566.4,595.5 566.4,603.4 570.0,605.0 570.0,613.4 573.6,615.1 573.6,622.8 577.1,624.2 577.1,630.4 580.7,631.6 580.7,637.7 584.3,638.9 584.3,644.8 587.9,646.1 587.9,652.6 591.4,653.8 591.4,659.2 595.0,660.1 595.0,664.0 598.6,664.7 598.6,668.4 602.1,669.1 602.1,672.4 605.7,673.0 605.7,676.3 609.3,677.1 609.3,681.7 612.8,682.7 612.8,688.0 616.4,689.0 616.4,693.7 620.0,694.6 620.0,698.4 623.5,699.1 623.5,702.5 627.1,703.1 627.1,706.0 630.7,706.6 630.7,709.1 634.2,709.6 634.2,711.9 637.8,712.3 637.8,714.3 641.4,714.7 641.4,716.7 644.9,717.1 644.9,719.1 648.5,719.5 648.5,721.6 652.1,722.0 652.1,724.1 655.6,724.5 655.6,726.6 659.2,727.1 659.2,729.2 662.8,729.6 662.8,731.7 666.3,732.2 666.3,734.7 669.9,735.3 669.9,737.9 673.5,738.5 673.5,741.1 677.1,741.6 677.1,743.4 680.6,743.8 680.6,745.6 684.2,745.9 684.2,747.7 687.8,748.0 687.8,749.1 691.3,749.3 691.3,750.4 694.9,750.6 694.9,751.6 698.5,751.8 698.5,752.7 702.0,752.9 702.0,753.8 705.6,754.0 705.6,754.9 709.2,755.1 709.2,756.0 712.7,756.1 712.7,757.2 716.3,757.4 716.3,758.6 719.9,758.8 719.9,760.0 723.4,760.3 723.4,761.4 727.0,761.7 727.0,762.9 730.6,763.2 730.6,764.7 734.1,765.1 734.1,766.6 737.7,767.0 737.7,768.6 741.3,768.9 741.3,770.5 744.8,770.8 744.8,772.4 748.4,772.7 748.4,774.3 752.0,774.6 752.0,776.2 755.5,776.5 755.5,778.1 759.1,778.4 759.1,780.0 762.7,780.3 762.7,782.3 766.3,782.7 766.3,784.7 769.8,785.1 769.8,787.1 773.4,787.5 773.4,789.4 777.0,789.8 777.0,791.6 780.5,791.9 780.5,793.6 784.1,793.9 784.1,795.4 787.7,795.6 787.7,797.1 791.2,797.3 791.2,798.3 794.8,798.5 794.8,799.0 798.4,799.1 798.4,799.5 801.9,799.6 801.9,800.1 805.5,800.2 805.5,800.7 809.1,800.8 809.1,801.3 812.6,801.4 812.6,801.9 816.2,802.0 816.2,802.4 819.8,802.5 819.8,802.9 823.3,803.0 823.3,803.4 826.9,803.5 826.9,803.9 830.5,804.0 830.5,804.4 834.0,804.4 834.0,804.8 837.6,804.9 837.6,805.3 841.2,805.4 841.2,805.6 844.7,805.7 844.7,806.0 848.3,806.0 848.3,806.3 851.9,806.3 851.9,806.6 855.5,806.7 855.5,806.9 859.0,807.0 859.0,807.2 862.6,807.2 866.2,807.4 869.7,807.5 873.3,807.6 876.9,807.7 880.4,807.9 884.0,808.0 887.6,808.1 891.1,808.2 894.7,808.4 898.3,808.5 901.8,808.6 905.4,808.7 909.0,808.8 912.5,808.9 916.1,808.9 919.7,809.0 923.2,809.1 926.8,809.1 930.4,809.2 933.9,809.3 937.5,809.3 941.1,809.4 944.7,809.5 948.2,809.5 951.8,809.6 955.4,809.7 958.9,809.7 962.5,809.8 966.1,809.9 969.6,809.9 973.2,810.0 976.8,810.1 980.3,810.1 983.9,810.1 987.5,810.1 991.0,810.1 994.6,810.2 998.2,810.2 1001.7,810.2 1005.3,810.2 1008.9,810.2 1012.4,810.2 1016.0,810.2 1019.6,810.2 1023.1,810.3 1026.7,810.3 1030.3,810.3 1033.9,810.3 1037.4,810.3 1041.0,810.3 1044.6,810.3 1048.1,810.3 1051.7,810.4 1055.3,810.4 1058.8,810.4 1062.4,810.4 1066.0,810.4 1069.5,810.4 1073.1,810.4 1076.7,810.5 1080.2,810.5 1083.8,810.5 1087.4,810.5 1090.9,810.5 1094.5,810.5 1098.1,810.6 1101.6,810.6 1105.2,810.6 1108.8,810.6 1112.3,810.6 1115.9,810.6 1119.5,810.7 1123.1,810.7 1126.6,810.7 1130.2,810.7 1133.8,810.7 1137.3,810.7 1140.9,810.8 1144.5,810.8 1148.0,810.8 1151.6,810.8 1155.2,810.8 1158.7,810.8 1162.3,810.8 1165.9,810.8 1169.4,810.8 1173.0,810.8 1176.6,810.8 1180.1,810.8 1183.7,810.8 1187.3,810.8 1190.8,810.8 1194.4,810.8 1198.0,810.8 1201.5,810.8 1205.1,810.8 1208.7,810.8 1212.3,810.8 1215.8,810.8 1219.4,810.8 1223.0,810.8 1226.5,810.8 1230.1,810.8 1233.7,810.8 1237.2,810.8 1240.8,810.8 1244.4,810.8 1247.9,810.8 1251.5,810.8 1255.1,810.8 1258.6,810.8 1262.2,810.8 1265.8,810.8 1269.3,810.8 1272.9,810.8 1276.5,810.8 1280.0,810.8 1283.6,810.8 1287.2,810.8 1290.7,810.8 1294.3,810.8 1297.9,810.8 1301.5,810.8 1305.0,810.8 1308.6,810.8 1312.2,810.8 1315.7,810.8 1319.3,810.8 1322.9,810.8 1326.4,810.8 1330.0,810.8 1333.6,810.8 1337.1,810.8 1340.7,810.8 1344.3,810.7 1347.8,810.7 1351.4,810.6 1355.0,810.6 1358.5,810.6 1362.1,810.5 1365.7,810.5 1369.2,810.5 1372.8,810.4 1376.4,810.4 1379.9,810.4 1383.5,810.3 1387.1,810.3 1390.7,810.2 1394.2,810.2 1397.8,810.2 1401.4,810.1 1404.9,810.1 1408.5,810.1 1412.1,810.0 1415.6,810.0 1419.2,809.9 1422.8,809.9 1426.3,809.9 1429.9,809.8 1433.5,809.8 1437.0,809.8 1440.6,809.7 1444.2,809.7 1447.7,809.6 1451.3,809.6 1454.9,809.6 1458.4,809.5 1462.0,809.5 1465.6,809.4 1469.1,809.4 1472.7,809.3 1476.3,809.3 1479.9,809.3 1483.4,809.2 1487.0,809.2 1490.6,809.1 1494.1,809.1 1497.7,809.1 1501.3,809.0 1504.8,809.0 1508.4,808.9 1512.0,808.9 1515.5,808.8 1519.1,808.8 1522.7,808.8 1526.2,808.7 1529.8,808.7 1533.4,808.6 1536.9,808.6 1540.5,808.5 1544.1,808.5 1547.6,808.4 1551.2,808.4 1554.8,808.4 1558.3,808.3 1561.9,808.3 1565.5,808.2 1569.1,808.2 1572.6,808.1 1576.2,808.1 1579.8,808.0 1583.3,808.0 1586.9,807.9 1590.5,807.9 1594.0,807.8 1597.6,807.8 1601.2,807.8 1604.7,807.7 1608.3,807.7 1611.9,807.6 1615.4,807.6 1619.0,807.5 1622.6,807.5 1626.1,807.5 1629.7,807.4 1633.3,807.4 1636.8,807.4 1640.4,807.3 1644.0,807.3 1647.5,807.2 1651.1,807.2 1654.7,807.2 1658.3,807.2 1661.8,807.2 1665.4,807.1 1669.0,807.1 1672.5,807.1 1676.1,807.1 1679.7,807.1 1683.2,807.1 1686.8,807.1 1690.4,807.1 1693.9,807.0 1697.5,807.0 1701.1,807.0 1704.6,807.0 1708.2,807.0 1711.8,807.0 1715.3,807.0 1718.9,807.0 1722.5,807.0 1726.0,807.0 1729.6,807.0 1733.2,807.0 1736.7,807.0 1740.3,807.0 1743.9,807.0 1747.5,807.0 1751.0,807.0 1754.6,807.0 1758.2,807.0 1761.7,807.0 1765.3,807.0 1768.9,807.0 1772.4,807.0 1776.0,807.0 1779.6,807.0 1783.1,807.0 1787.0,807.0"/>
<polyline stroke="#00AF66" points="181.0,454.1 184.7,454.1 188.2,454.0 191.8,454.0 195.4,454.0 198.9,454.0 202.5,453.9 206.1,453.9 209.6,453.9 213.2,453.8 216.8,453.8 220.3,453.8 223.9,453.7 227.5,453.7 231.1,453.7 234.6,453.6 238.2,453.6 241.8,453.5 245.3,453.5 248.9,453.5 252.5,453.4 256.0,453.4 259.6,453.4 263.2,453.3 266.7,453.3 270.3,453.3 273.9,453.2 277.4,453.2 281.0,453.1 284.6,453.1 288.1,453.1 291.7,453.0 295.3,453.0 298.8,453.0 302.4,452.9 306.0,452.9 309.5,452.9 313.1,452.8 316.7,452.8 320.3,452.7 323.8,452.7 327.4,452.6 331.0,452.6 334.5,452.5 338.1,452.5 341.7,452.4 345.2,452.4 348.8,452.4 352.4,452.3 355.9,452.3 359.5,452.2 363.1,452.2 366.6,452.1 370.2,452.1 373.8,452.0 377.3,452.0 380.9,451.9 384.5,451.8 388.0,451.7 391.6,451.5 395.2,451.3 398.7,451.1 402.3,450.9 402.3,450.7 405.9,450.6 405.9,450.3 409.5,450.2 409.5,449.9 413.0,449.8 413.0,449.5 416.6,449.4 416.6,449.1 420.2,449.0 420.2,448.6 423.7,448.4 423.7,447.5 427.3,447.3 427.3,446.5 430.9,446.2 430.9,445.1 434.4,444.8 434.4,443.0 438.0,442.6 438.0,440.8 441.6,440.5 441.6,438.5 445.1,438.0 445.1,435.6 448.7,435.1 448.7,432.7 452.3,432.3 452.3,431.0 455.8,430.8 455.8,429.6 459.4,429.3 459.4,428.1 463.0,427.9 463.0,426.8 466.5,426.6 466.5,425.9 470.1,425.8 470.1,425.1 473.7,424.9 473.7,424.2 477.2,424.1 477.2,423.4 480.8,423.2 480.8,422.4 484.4,422.3 484.4,421.5 487.9,421.3 487.9,420.5 491.5,420.4 491.5,419.6 495.1,419.4 495.1,418.3 498.7,418.0 498.7,416.5 502.2,416.1 502.2,414.6 505.8,414.2 505.8,412.3 509.4,411.9 509.4,409.7 512.9,409.2 512.9,406.3 516.5,405.7 516.5,402.5 520.1,401.8 520.1,397.3 523.6,396.3 523.6,391.0 527.2,389.8 527.2,384.0 530.8,382.8 530.8,376.2 534.3,374.9 534.3,368.3 537.9,367.0 537.9,360.5 541.5,359.2 541.5,352.7 545.0,351.5 545.0,346.1 548.6,345.0 548.6,339.6 552.2,338.6 552.2,333.9 555.7,332.9 555.7,328.5 559.3,327.6 559.3,323.2 562.9,322.4 562.9,319.0 566.4,318.3 566.4,314.8 570.0,314.2 570.0,310.7 573.6,310.2 573.6,308.2 577.1,307.8 577.1,306.0 580.7,305.6 580.7,303.8 584.3,303.5 584.3,301.7 587.9,301.3 587.9,299.9 591.4,299.7 591.4,298.4 595.0,298.1 595.0,296.8 598.6,296.5 598.6,295.3 602.1,295.1 602.1,294.0 605.7,293.8 605.7,292.8 609.3,292.6 609.3,291.5 612.8,291.3 612.8,290.3 616.4,290.1 616.4,289.2 620.0,289.1 620.0,288.3 623.5,288.2 623.5,287.8 627.1,287.8 630.7,287.8 634.2,287.8 634.2,288.2 637.8,288.3 637.8,288.9 641.4,289.1 641.4,289.7 644.9,289.7 644.9,290.0 648.5,290.0 652.1,290.1 655.6,290.2 659.2,290.4 659.2,290.8 662.8,291.0 662.8,292.3 666.3,292.5 666.3,293.9 669.9,294.4 669.9,297.9 673.5,298.6 673.5,302.2 677.1,302.9 677.1,306.5 680.6,307.2 680.6,310.8 684.2,311.5 684.2,315.1 687.8,315.8 687.8,319.4 691.3,320.1 691.3,323.2 694.9,323.7 694.9,325.8 698.5,326.2 698.5,328.3 702.0,328.7 702.0,330.7 705.6,331.1 705.6,332.5 709.2,332.8 709.2,334.3 712.7,334.6 712.7,336.2 716.3,336.6 716.3,339.0 719.9,339.5 719.9,341.9 723.4,342.4 723.4,344.8 727.0,345.4 727.0,349.1 730.6,349.9 730.6,354.5 734.1,355.2 734.1,358.1 737.7,358.7 737.7,361.6 741.3,362.2 741.3,365.2 744.8,365.8 744.8,368.9 748.4,369.4 748.4,371.3 752.0,371.6 752.0,372.9 755.5,373.2 755.5,374.6 759.1,374.8 759.1,376.2 762.7,376.4 762.7,377.8 766.3,378.0 766.3,379.4 769.8,379.6 769.8,381.0 773.4,381.2 773.4,382.5 777.0,382.8 777.0,384.1 780.5,384.5 780.5,386.3 784.1,386.7 784.1,388.8 787.7,389.3 787.7,391.4 791.2,391.8 791.2,393.9 794.8,394.3 794.8,396.4 798.4,396.9 798.4,399.1 801.9,399.5 801.9,401.8 805.5,402.1 805.5,403.7 809.1,403.9 809.1,405.0 812.6,405.2 812.6,406.3 816.2,406.5 816.2,407.5 819.8,407.7 819.8,408.8 823.3,409.0 823.3,410.1 826.9,410.3 826.9,411.3 830.5,411.5 830.5,412.5 834.0,412.6 834.0,413.6 837.6,413.8 837.6,414.8 841.2,415.0 841.2,415.9 844.7,416.1 844.7,417.1 848.3,417.3 848.3,418.3 851.9,418.5 851.9,419.4 855.5,419.6 855.5,420.6 859.0,420.8 859.0,421.6 862.6,421.7 862.6,422.3 866.2,422.5 866.2,423.1 869.7,423.2 869.7,423.8 873.3,423.9 873.3,424.5 876.9,424.6 876.9,425.2 880.4,425.3 880.4,425.9 884.0,426.0 884.0,426.6 887.6,426.8 887.6,427.3 891.1,427.5 891.1,427.9 894.7,428.0 894.7,428.3 898.3,428.3 898.3,428.6 901.8,428.7 901.8,429.0 905.4,429.1 905.4,429.4 909.0,429.4 909.0,429.7 912.5,429.8 912.5,430.1 916.1,430.1 916.1,430.4 919.7,430.5 919.7,430.8 923.2,430.9 923.2,431.1 926.8,431.2 926.8,431.4 930.4,431.4 930.4,431.7 933.9,431.7 933.9,431.9 937.5,432.0 937.5,432.2 941.1,432.2 941.1,432.5 944.7,432.5 944.7,432.7 948.2,432.8 948.2,433.0 951.8,433.0 951.8,433.3 955.4,433.3 958.9,433.5 962.5,433.5 966.1,433.6 969.6,433.7 973.2,433.8 976.8,433.9 980.3,434.0 983.9,434.1 987.5,434.2 991.0,434.2 994.6,434.3 998.2,434.4 1001.7,434.5 1005.3,434.6 1008.9,434.7 1012.4,434.7 1016.0,434.8 1019.6,434.9 1023.1,435.0 1026.7,435.0 1030.3,435.1 1033.9,435.2 1037.4,435.2 1041.0,435.3 1044.6,435.4 1048.1,435.5 1051.7,435.5 1055.3,435.6 1058.8,435.7 1062.4,435.8 1066.0,435.8 1069.5,435.9 1073.1,436.0 1076.7,436.1 1080.2,436.1 1083.8,436.2 1087.4,436.3 1090.9,436.4 1094.5,436.4 1098.1,436.5 1101.6,436.6 1105.2,436.7 1108.8,436.7 1112.3,436.8 1115.9,436.9 1119.5,437.0 1123.1,437.0 1126.6,437.1 1130.2,437.2 1133.8,437.2 1137.3,437.3 1140.9,437.4 1144.5,437.5 1148.0,437.5 1151.6,437.6 1155.2,437.7 1158.7,437.8 1162.3,437.8 1165.9,437.9 1169.4,438.0 1173.0,438.1 1176.6,438.1 1180.1,438.2 1183.7,438.3 1187.3,438.4 1190.8,438.4 1194.4,438.5 1198.0,438.6 1201.5,438.6 1205.1,438.7 1208.7,438.8 1212.3,438.9 1215.8,438.9 1219.4,439.0 1223.0,439.1 1226.5,439.1 1230.1,439.2 1233.7,439.3 1237.2,439.4 1240.8,439.4 1244.4,439.5 1247.9,439.6 1251.5,439.6 1255.1,439.7 1258.6,439.8 1262.2,439.8 1265.8,439.9 1269.3,440.0 1272.9,440.1 1276.5,440.1 1280.0,440.2 1283.6,440.3 1287.2,440.3 1290.7,440.4 1294.3,440.5 1297.9,440.6 1301.5,440.6 1305.0,440.7 1308.6,440.8 1312.2,440.8 1315.7,440.9 1319.3,441.0 1322.9,441.0 1326.4,441.1 1330.0,441.2 1333.6,441.2 1337.1,441.3 1340.7,441.4 1344.3,441.4 1347.8,441.5 1351.4,441.6 1355.0,441.6 1358.5,441.7 1362.1,441.8 1365.7,441.8 1369.2,441.9 1372.8,442.0 1376.4,442.0 1379.9,442.1 1383.5,442.2 1387.1,442.2 1390.7,442.3 1394.2,442.4 1397.8,442.4 1401.4,442.5 1404.9,442.6 1408.5,442.7 1412.1,442.8 1415.6,442.9 1419.2,442.9 1422.8,443.0 1426.3,443.1 1429.9,443.2 1433.5,443.3 1437.0,443.4 1440.6,443.5 1444.2,443.5 1447.7,443.6 1451.3,443.7 1454.9,443.8 1458.4,443.8 1462.0,443.9 1465.6,443.9 1469.1,443.9 1472.7,444.0 1476.3,444.0 1479.9,444.0 1483.4,444.1 1487.0,444.1 1490.6,444.1 1494.1,444.2 1497.7,444.2 1501.3,444.2 1504.8,444.3 1508.4,444.3 1512.0,444.3 1515.5,444.4 1519.1,444.4 1522.7,444.4 1526.2,444.5 1529.8,444.5 1533.4,444.5 1536.9,444.6 1540.5,444.6 1544.1,444.6 1547.6,444.5 1551.2,444.5 1554.8,444.5 1558.3,444.4 1561.9,444.4 1565.5,444.4 1569.1,444.3 1572.6,444.3 1576.2,444.3 1579.8,444.2 1583.3,444.2 1586.9,444.2 1590.5,444.1 1594.0,444.1 1597.6,444.1 1601.2,444.0 1604.7,444.0 1608.3,444.0 1611.9,443.9 1615.4,443.9 1619.0,443.9 1622.6,443.9 1626.1,443.9 1629.7,443.8 1633.3,443.8 1636.8,443.8 1640.4,443.8 1644.0,443.7 1647.5,443.7 1651.1,443.7 1654.7,443.7 1658.3,443.6 1661.8,443.6 1665.4,443.6 1669.0,443.6 1672.5,443.5 1676.1,443.5 1679.7,443.5 1683.2,443.5 1686.8,443.5 1690.4,443.4 1693.9,443.4 1697.5,443.4 1701.1,443.4 1704.6,443.3 1708.2,443.3 1711.8,443.3 1715.3,443.3 1718.9,443.3 1722.5,443.2 1726.0,443.2 1729.6,443.2 1733.2,443.2 1736.7,443.2 1740.3,443.1 1743.9,443.1 1747.5,443.1 1751.0,443.1 1754.6,443.1 1758.2,443.1 1761.7,443.0 1765.3,443.0 1768.9,443.0 1772.4,443.0 1776.0,443.0 1779.6,442.9 1783.1,442.9 1787.0,442.9"/>
</g>
<g fill="#000" shape-rendering="crispEdges">
<rect x="502.1" y="394.2" width="6.8" height="38.5"/>
<rect x="630.8" y="271.2" width="6.8" height="38.5"/>
<rect x="802.2" y="383.1" width="6.8" height="38.7"/>
<rect x="435.1" y="695.1" width="6.8" height="38.7"/>
<rect x="520.6" y="474.1" width="6.8" height="38.6"/>
<rect x="630.7" y="689.9" width="6.8" height="38.2"/>
<rect x="389.1" y="1111.1" width="6.8" height="38.7"/>
<rect x="488.6" y="841.2" width="6.8" height="38.6"/>
<rect x="595.7" y="1155.0" width="6.8" height="39.8"/>
<rect x="431.8" y="1294.7" width="6.8" height="38.1"/>
<rect x="502.1" y="1256.0" width="6.8" height="39.0"/>
<rect x="663.6" y="1415.2" width="6.8" height="38.8"/>
</g>
<g>
<text transform="translate(394.59 381.60) scale(0.7530 0.7831)" font-family='"Liberation Sans", Arial, Helvetica, sans-serif' font-size="100" stroke-width="1.328" dx="2.5 -2.5 2.5" clip-path="url(#c13)">141</text>
<text transform="translate(574.09 260.30) scale(0.7530 0.7831)" font-family='"Liberation Sans", Arial, Helvetica, sans-serif' font-size="100" stroke-width="1.328" dx="2.5 -2.5" clip-path="url(#c1)">177</text>
<text transform="translate(758.94 357.70) scale(0.7530 0.7831)" font-family='"Liberation Sans", Arial, Helvetica, sans-serif' font-size="100" stroke-width="1.328">225</text>
<text transform="translate(329.29 681.60) scale(0.7530 0.7831)" font-family='"Liberation Sans", Arial, Helvetica, sans-serif' font-size="100" stroke-width="1.328" dx="2.5 -2.5" clip-path="url(#c1)">122</text>
<text transform="translate(517.29 469.60) scale(0.7530 0.7831)" font-family='"Liberation Sans", Arial, Helvetica, sans-serif' font-size="100" stroke-width="1.328" dx="2.5 -2.5" clip-path="url(#c1)">146</text>
<text transform="translate(607.39 673.70) scale(0.7530 0.7831)" font-family='"Liberation Sans", Arial, Helvetica, sans-serif' font-size="100" stroke-width="1.328" dx="2.5 -2.5" clip-path="url(#c1)">177</text>
<text transform="translate(281.29 1097.60) scale(0.7530 0.7831)" font-family='"Liberation Sans", Arial, Helvetica, sans-serif' font-size="100" stroke-width="1.328" dx="2.5 -2.5" clip-path="url(#c1)">109</text>
<text transform="translate(425.29 827.60) scale(0.7530 0.7831)" font-family='"Liberation Sans", Arial, Helvetica, sans-serif' font-size="100" stroke-width="1.328" dx="2.5 -2.5" clip-path="url(#c1)">137</text>
<text transform="translate(569.29 1144.60) scale(0.7530 0.7831)" font-family='"Liberation Sans", Arial, Helvetica, sans-serif' font-size="100" stroke-width="1.328" dx="2.5 -2.5" clip-path="url(#c1)">167</text>
<text transform="translate(329.49 1293.40) scale(0.7530 0.7831)" font-family='"Liberation Sans", Arial, Helvetica, sans-serif' font-size="100" stroke-width="1.328" dx="2.5 -2.5 2.5" clip-path="url(#c13)">121</text>
<text transform="translate(441.29 1242.60) scale(0.7530 0.7831)" font-family='"Liberation Sans", Arial, Helvetica, sans-serif' font-size="100" stroke-width="1.328" dx="2.5 -2.5 2.5" clip-path="url(#c13)">141</text>
<text transform="translate(604.19 1402.60) scale(0.7530 0.7831)" font-family='"Liberation Sans", Arial, Helvetica, sans-serif' font-size="100" stroke-width="1.328" dx="2.5 -2.5" clip-path="url(#c1)">186</text>
<text transform="translate(1323.75 403.20) scale(0.9067 0.9454)" font-family='"Liberation Sans", Arial, Helvetica, sans-serif' font-size="100" stroke-width="1.100">Cu/CZ-750</text>
<text transform="translate(1325.65 771.40) scale(0.9067 0.9454)" font-family='"Liberation Sans", Arial, Helvetica, sans-serif' font-size="100" stroke-width="1.100">Cu/CZ-650</text>
<text transform="translate(1328.25 1179.80) scale(0.9067 0.9454)" font-family='"Liberation Sans", Arial, Helvetica, sans-serif' font-size="100" stroke-width="1.100">Cu/CZ-550</text>
<text transform="translate(1323.75 1481.40) scale(0.9067 0.9454)" font-family='"Liberation Sans", Arial, Helvetica, sans-serif' font-size="100" stroke-width="1.100">Cu/CZ-450</text>
<text transform="translate(283.49 1763.60) scale(0.9090 0.9454)" font-family='"Liberation Sans", Arial, Helvetica, sans-serif' font-size="100" stroke-width="1.100" dx="2.5 -2.5" clip-path="url(#c1)">100</text>
<text transform="translate(639.72 1763.60) scale(0.9090 0.9454)" font-family='"Liberation Sans", Arial, Helvetica, sans-serif' font-size="100" stroke-width="1.100">200</text>
<text transform="translate(997.66 1763.60) scale(0.9090 0.9454)" font-family='"Liberation Sans", Arial, Helvetica, sans-serif' font-size="100" stroke-width="1.100">300</text>
<text transform="translate(1353.18 1763.60) scale(0.9090 0.9454)" font-family='"Liberation Sans", Arial, Helvetica, sans-serif' font-size="100" stroke-width="1.100">400</text>
<text transform="translate(1710.76 1763.60) scale(0.9090 0.9454)" font-family='"Liberation Sans", Arial, Helvetica, sans-serif' font-size="100" stroke-width="1.100">500</text>
</g>
<text transform="translate(645.6 1885.3) scale(0.9950 1.0)" font-family='"Liberation Sans", Arial, Helvetica, sans-serif' font-size="106.0" font-weight="bold" stroke-width="0.5">Temperature (<tspan font-weight="normal" stroke-width="1">°C</tspan>)</text>
<text transform="translate(106.9 1171.9) rotate(-90) scale(0.9945 1.0)" font-family='"Liberation Sans", Arial, Helvetica, sans-serif' font-size="106.0" font-weight="bold" stroke-width="0.5">Intensity (a.u.)</text>
<text transform="translate(440.30 290.08) scale(0.8000 0.7376)" font-family='"DejaVu Serif", "Liberation Serif", serif' font-size="100" stroke-width="0">α</text>
<text transform="translate(617.55 164.65) scale(0.9032 0.8360)" font-family='"DejaVu Serif", "Liberation Serif", serif' font-size="100" stroke-width="0">β</text>
<text transform="translate(800.26 269.47) scale(0.7259 0.8397)" font-family='"DejaVu Serif", "Liberation Serif", serif' font-size="100" stroke-width="0">γ</text>
</svg></body></html>
